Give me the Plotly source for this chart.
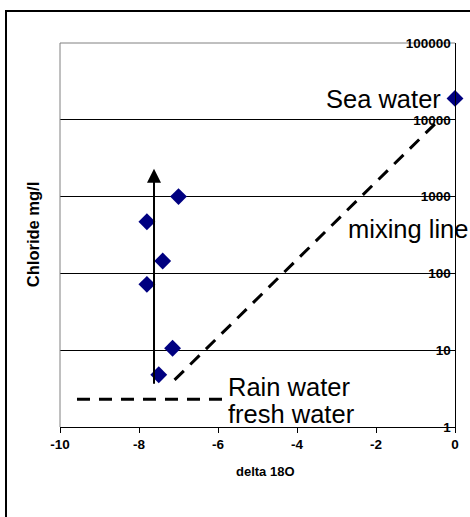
import math
import plotly.graph_objects as go

# Data
sample_x = [-7.0, -7.8, -7.4, -7.8, -7.15, -7.5, 0.0]
sample_y = [1000, 470, 145, 72, 10.6, 4.8, 19000]

mixing_x = [-7.1, -0.4]
mixing_y = [4.1, 10000]

rain_x = [-9.57, -5.87]
rain_y = [2.3, 2.3]

arrow_x = -7.62
arrow_y_from = 3.5
arrow_y_to = 2300

x_ticks = [-10, -8, -6, -4, -2, 0]
x_tick_text = ["-10", "-8", "-6", "-4", "-2", "0"]
y_ticks = [1, 10, 100, 1000, 10000, 100000]
y_tick_text = ["1", "10", "100", "1000", "10000", "100000"]

FONT = "Liberation Sans, Arial, sans-serif"
BIG = 25.5

fig = go.Figure()

fig.add_trace(go.Scatter(
    x=mixing_x, y=mixing_y, mode="lines",
    line=dict(color="black", width=3, dash="13px,9px"),
    cliponaxis=False, showlegend=False, hoverinfo="skip"))
fig.add_trace(go.Scatter(
    x=rain_x, y=rain_y, mode="lines",
    line=dict(color="black", width=3, dash="13px,9px"),
    cliponaxis=False, showlegend=False, hoverinfo="skip"))
fig.add_trace(go.Scatter(
    x=sample_x, y=sample_y, mode="markers",
    marker=dict(symbol="diamond", size=13, color="#000080"),
    cliponaxis=False, showlegend=False))

ann = []
# vertical arrow
ann.append(dict(x=arrow_x, y=math.log10(arrow_y_to), ax=arrow_x, ay=math.log10(arrow_y_from),
                xref="x", yref="y", axref="x", ayref="y", text="", showarrow=True,
                arrowhead=2, arrowsize=1.4, arrowwidth=2, arrowcolor="black"))
ann.append(dict(x=-0.3, y=4.27, xref="x", yref="y", text="Sea water", showarrow=False,
                xanchor="right", yanchor="middle", font=dict(family=FONT, size=BIG, color="black")))
ann.append(dict(x=-2.75, y=2.58, xref="x", yref="y", text="mixing line", showarrow=False,
                xanchor="left", yanchor="middle", font=dict(family=FONT, size=BIG, color="black")))
ann.append(dict(x=-5.8, y=0.52, xref="x", yref="y", text="Rain water", showarrow=False,
                xanchor="left", yanchor="middle", font=dict(family=FONT, size=BIG, color="black")))
ann.append(dict(x=-5.8, y=0.17, xref="x", yref="y", text="fresh water", showarrow=False,
                xanchor="left", yanchor="middle", font=dict(family=FONT, size=BIG, color="black")))
ann.append(dict(x=0.52, y=-0.117, xref="paper", yref="paper", text="<b>delta 18O</b>", showarrow=False,
                xanchor="center", yanchor="middle", font=dict(family=FONT, size=13, color="black")))
ann.append(dict(x=-0.068, y=0.5, xref="paper", yref="paper", text="<b>Chloride mg/l</b>", showarrow=False,
                textangle=-90, xanchor="center", yanchor="middle", font=dict(family=FONT, size=16.5, color="black")))

shapes = [
    # outer chart frame
    dict(type="rect", xref="paper", yref="paper", x0=-0.1367, x1=2, y0=-1, y1=1.0833,
         line=dict(color="black", width=2), layer="above"),
    # plot area border (grey) left & top
    dict(type="line", xref="paper", yref="paper", x0=0, x1=0, y0=0, y1=1,
         line=dict(color="#808080", width=1), layer="above"),
    dict(type="line", xref="paper", yref="paper", x0=0, x1=1, y0=1, y1=1,
         line=dict(color="#808080", width=1), layer="below"),
]

fig.update_layout(
    width=470, height=517,
    margin=dict(l=60, r=15, t=43, b=90),
    paper_bgcolor="white", plot_bgcolor="white",
    font=dict(family=FONT, color="black"),
    annotations=ann, shapes=shapes,
    xaxis=dict(range=[-10, 0], tickvals=x_ticks, ticktext=x_tick_text, ticks="outside", ticklen=5,
               tickcolor="black",
               showgrid=False, zeroline=False, showline=True, linecolor="black", linewidth=1,
               tickfont=dict(family=FONT, size=13.5, color="black", weight="bold")),
    yaxis=dict(type="log", range=[0, 5], side="right", tickvals=y_ticks, ticktext=y_tick_text,
               ticks="inside", ticklen=4, tickcolor="black", ticklabelposition="inside",
               ticklabeloverflow="allow",
               showgrid=True, gridcolor="black", gridwidth=1, zeroline=False,
               showline=True, linecolor="black", linewidth=1,
               tickfont=dict(family=FONT, size=13.5, color="black", weight="bold")),
)

fig.write_html("out.html", config={"displayModeBar": False},
               post_script="document.body.style.margin='0';")
